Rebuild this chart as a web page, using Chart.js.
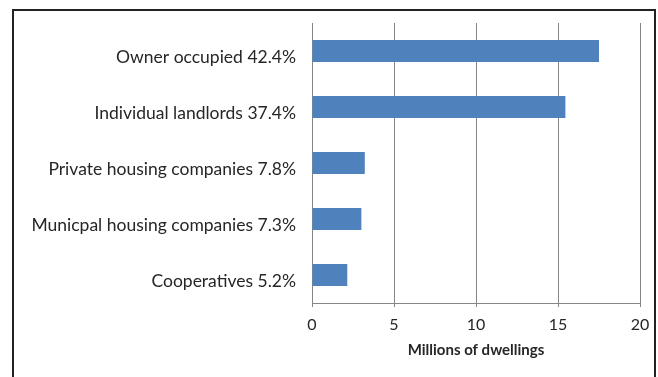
<!DOCTYPE html>
<html>
<head>
<meta charset="utf-8">
<script src="https://cdn.jsdelivr.net/npm/chart.js@4.4.0/dist/chart.umd.min.js"></script>
<style>
  body { margin: 0; background: #fff; }
  #frame { position: absolute; left: 12px; top: 9px; width: 640px; height: 400px; border: 2px solid #222; }
  #wrap { position: absolute; left: 0; top: 0; width: 658px; height: 377px; }
</style>
</head>
<body>
<div id="frame"></div>
<div id="wrap"><canvas id="chart" width="658" height="377"></canvas></div>
<script>
const categories = [
    "Owner occupied 42.4%",
    "Individual landlords 37.4%",
    "Private housing companies 7.8%",
    "Municpal housing companies 7.3%",
    "Cooperatives 5.2%"
];
const dwellings = [17.5, 15.45, 3.22, 3.01, 2.15];
const xTicks = [0, 5, 10, 15, 20];
const xTitle = "Millions of dwellings";

const gridGray = "#868686";
const textColor = "#262626";

new Chart(document.getElementById("chart").getContext("2d"), {
    type: "bar",
    data: {
        labels: categories,
        datasets: [{
            data: dwellings,
            backgroundColor: "#4f81bd",
            barPercentage: 0.78,
            categoryPercentage: 0.5
        }]
    },
    options: {
        indexAxis: "y",
        responsive: false,
        animation: false,
        layout: { padding: { left: 0, right: 18, top: 23, bottom: 0 } },
        plugins: { legend: { display: false }, tooltip: { enabled: false } },
        scales: {
            x: {
                min: xTicks[0],
                max: xTicks[xTicks.length - 1],
                afterBuildTicks: (scale) => { scale.ticks = xTicks.map(v => ({ value: v })); },
                afterFit: (scale) => { scale.height = 74; },
                grid: { color: gridGray, tickLength: 4, tickColor: gridGray },
                border: { color: gridGray },
                ticks: { color: textColor, font: { family: "Lato", size: 16 }, padding: 8 },
                title: {
                    display: true,
                    text: xTitle,
                    color: textColor,
                    font: { family: "Lato", size: 15, weight: "bold" },
                    padding: { top: 4, bottom: 18 }
                }
            },
            y: {
                afterFit: (scale) => { scale.width = 312; },
                grid: { display: false },
                border: { display: true, color: gridGray },
                ticks: { color: textColor, font: { family: "Lato", size: 17.5 }, padding: 8, labelOffset: 6 }
            }
        }
    }
});
</script>
</body>
</html>
